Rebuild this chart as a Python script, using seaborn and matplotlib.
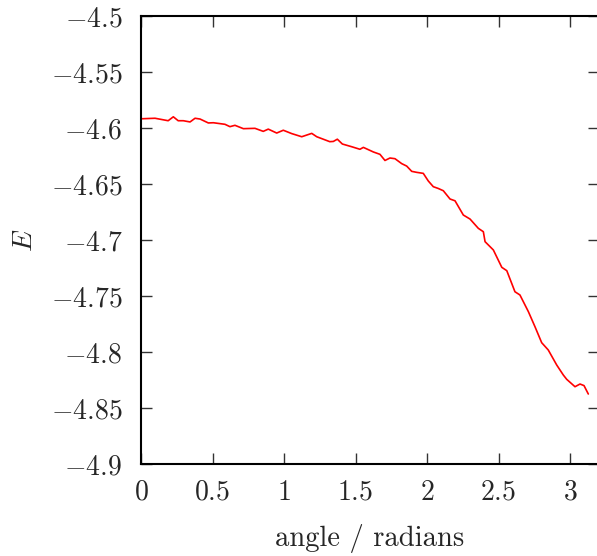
import matplotlib
matplotlib.use("Agg")
import matplotlib.pyplot as plt
import seaborn as sns
import pandas as pd

angle = [0.0, 0.016, 0.098, 0.19, 0.226, 0.26, 0.296, 0.343, 0.378, 0.413, 0.471, 0.506,
         0.587, 0.622, 0.657, 0.716, 0.797, 0.855, 0.89, 0.949, 0.995, 1.054, 1.124,
         1.194, 1.229, 1.32, 1.345, 1.373, 1.408, 1.473, 1.531, 1.555, 1.625, 1.671,
         1.706, 1.741, 1.776, 1.823, 1.858, 1.893, 1.928, 1.974, 2.009, 2.044, 2.079,
         2.114, 2.161, 2.196, 2.254, 2.301, 2.359, 2.394, 2.406, 2.464, 2.523, 2.558,
         2.615, 2.65, 2.709, 2.755, 2.802, 2.848, 2.907, 2.953, 2.977, 3.035, 3.07,
         3.098, 3.128]
energy = [-4.5917, -4.5917, -4.5913, -4.5935, -4.590, -4.5935, -4.5935, -4.5946, -4.5913,
          -4.592, -4.5955, -4.5953, -4.5967, -4.5988, -4.5976, -4.6006, -4.6003, -4.603,
          -4.601, -4.6045, -4.602, -4.605, -4.6078, -4.6048, -4.6078, -4.6122, -4.612,
          -4.610, -4.6143, -4.6167, -4.619, -4.6173, -4.6214, -4.6235, -4.629, -4.6268,
          -4.6274, -4.6318, -4.634, -4.6387, -4.6396, -4.6405, -4.6473, -4.6524, -4.654,
          -4.656, -4.6634, -4.665, -4.6777, -4.6813, -4.6896, -4.6926, -4.7015, -4.7089,
          -4.7244, -4.7274, -4.7462, -4.7491, -4.764, -4.7774, -4.7917, -4.7982, -4.8116,
          -4.8205, -4.8244, -4.831, -4.8286, -4.830, -4.8375]

x_ticks = [0, 0.5, 1, 1.5, 2, 2.5, 3]
x_tick_labels = ["0", "0.5", "1", "1.5", "2", "2.5", "3"]
y_ticks = [-4.9, -4.85, -4.8, -4.75, -4.7, -4.65, -4.6, -4.55, -4.5]
y_tick_labels = ["-4.9", "-4.85", "-4.8", "-4.75", "-4.7", "-4.65", "-4.6", "-4.55", "-4.5"]

df = pd.DataFrame({"angle": angle, "E": energy})

sns.set_theme(style="ticks")
plt.rcParams["mathtext.fontset"] = "cm"
plt.rcParams["font.family"] = ["cmr10", "DejaVu Serif"]

fig = plt.figure(figsize=(5.97, 5.56), dpi=100)
ax = fig.add_axes([141 / 597, 92 / 556, 457.6 / 597, 448 / 556])

sns.lineplot(data=df, x="angle", y="E", ax=ax, color="#ff0000", linewidth=1.2,
             sort=False, estimator=None)

ax.set_xlim(0, 3.2)
ax.set_ylim(-4.9, -4.5)
ax.set_xticks(x_ticks)
ax.set_xticklabels([f"${t}$" for t in x_tick_labels])
ax.set_yticks(y_ticks)
ax.set_yticklabels([f"${t}$" for t in y_tick_labels])

ax.tick_params(axis="both", which="both", direction="in", length=8, width=1,
               color="#333333", top=True, right=True, labelsize=20)
ax.tick_params(axis="x", pad=11)
ax.tick_params(axis="y", pad=13.5)
for s in ax.spines.values():
    s.set_linewidth(1.5)
    s.set_color("black")
    s.set_visible(True)

ax.set_xlabel("angle / radians", fontsize=20.6, labelpad=13)
ax.set_ylabel("$E$", fontsize=20, labelpad=9)

fig.savefig("out.png", dpi=100)
